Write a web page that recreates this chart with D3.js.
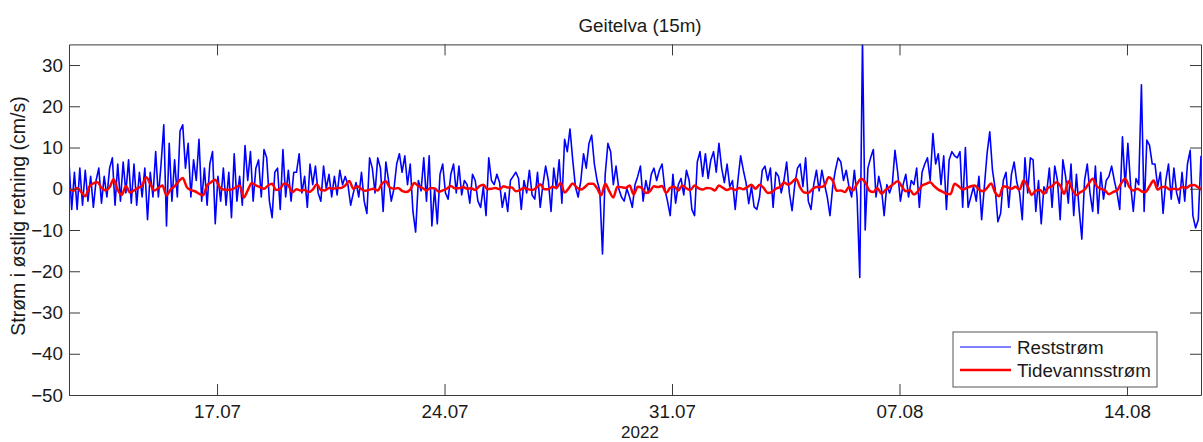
<!DOCTYPE html>
<html>
<head>
<meta charset="utf-8">
<script src="https://cdn.jsdelivr.net/npm/d3@7"></script>
<style>
  html, body { margin: 0; padding: 0; background: #fff; }
  svg { display: block; font-family: "Liberation Sans", Arial, Helvetica, sans-serif; }
</style>
</head>
<body>
<svg id="chart" width="1203" height="442"></svg>
<script>
// Geitelva 15 m: east-going current, residual and tidal parts (cm/s)
const title = "Geitelva (15m)";
const yLabel = "Strøm i østlig retning (cm/s)";
const yearLabel = "2022";
const seriesNames = ["Reststrøm", "Tidevannsstrøm"];
const yTicks = [-50, -40, -30, -20, -10, 0, 10, 20, 30];
const dateTicks = ["2022-07-17", "2022-07-24", "2022-07-31", "2022-08-07", "2022-08-14"];
const periodStart = "2022-07-12T10:40:00Z";
const periodEnd = "2022-08-16T06:40:00Z";

// Residual current, one reading every 2 hours from periodStart
const reststromStepHours = 2;
const reststrom = [
  6.5,-5,4,-5,5,-4,4.5,-3,3,-4.5,
  2,5,-3.5,3,-2,5,7.5,-4,6,-3,
  6.5,-1,7,-3.5,6,-4,4,-2,5,-7.5,
  4,-2,9,-2,6,15.5,-9,11,-3,7,
  -2,14,15.5,5,11,-2,7,2,12,-3,
  5,-4,6,9,-8.5,3,-3,5,-4,4,
  -7,8.5,-3,3,-4,10.5,2,9,-3,5,
  7,-2,9.5,7.5,-3,-7,4,5,-5,9.5,
  -2,4.5,-3,4,
  4,8.5,-1,3,-4.5,6,1,5.5,-1,-3,
  5.5,0,3.5,-2,3,-1.5,4.5,1,3,1,
  -4,-1,1.5,-2,4,-3,-6,7.5,5,-1,
  7.5,5,-5.5,6.5,2,-3,0,6,8.5,4,
  8,1,6,-5.5,-10.5,2,-0.5,7.5,-3,8,
  -9,0,-8.5,3.5,6,-1,-2.5,3.5,6,-1,
  5.5,-1.5,2,1,-3.5,3.5,2,-3,-4.5,0.5,
  -6.5,7.5,2,1,3.5,1.5,-4.5,-1,-5.5,2,
  3,4,2.5,
  -5,2,-1,4.5,-1.5,-2.5,4,-4.5,1,5.5,
  2,-5.5,5,0,7,-3.5,12,9,14.5,7,
  0.5,-2,2,8.5,5,11,13,6,2,-0.5,
  -15.8,3.5,11,9,1,5.5,0,-2,-3,0,
  -2,-4.5,1,3,5.5,-3,2,-1,3.5,5,
  2,4.5,6,0,-3,-6.5,3.5,-3.5,1,2.5,
  -1.5,4.5,2,-5,-6.5,6.5,9,3,8.5,2.5,
  7,9,4,11,5,1.5,6,0.5,2,-5,
  2,8,4.5,
  1.5,-3.6,0.5,-4.4,-5,-2,4.5,5.5,2,5,
  -4.5,4,3,-1,2,6.5,-1,-5.3,1,5,
  6,0.5,7.5,-3,-5,1,4.5,-0.5,4.5,1,
  -2,-6.5,0.5,4.5,7.5,6.5,2,4.5,0.5,-2,
  4.5,-2,-21.5,36,-10,5,7.5,9.5,-2,3,
  0,-6.5,1,-1,1,9.3,4,-3,1,3.5,
  -2,2,1,5,-4.5,4,6,7.5,2,13.4,
  6,8.5,1,8,-5,7,9,8,7.5,9,
  -4.5,10,-4.5,
  -2,0.5,-3,3,-7.5,0.5,8.5,13.8,4.5,0,
  -8,-6,2,4,-4.5,3.5,6.5,1.5,-1,-7.5,
  7.5,-1,7.5,7,-5.5,2,-8.5,0.5,-1,5,
  -4.5,5.5,2,-7.5,7,3,-3.5,6,-6.5,3.5,
  -5,-12.2,2,6,-1,-5.5,5.5,-6,4,-2.5,
  2,3,5.5,2,-1,-5,12.6,0.5,11,1,
  -5.5,2.5,1,25.2,-5.5,11.8,10.5,6,6,0.5,
  4,-6,2,6,-2.5,5,-1,-3.5,4,-3,
  6,9.3,-6.5,-9.5,-7.5,8
];

// Tidal current, one reading every 3 hours from periodStart
const tidevannStepHours = 3;
const tidevannsstrom = [
  0,-0.5,0.2,-0.8,-1.8,0.5,1.3,1.6,0.2,-0.4,
  0.4,2.3,-0.3,-1.5,0.7,-0.9,-0.4,0.2,0.8,2.8,
  1.2,-0.4,0.2,0.8,-1.6,-0.2,0.6,1.8,2.6,0.4,
  -0.3,-0.6,-1.2,-1.6,0.8,1.6,2.2,0.5,-0.2,-0.3,
  -0.2,0.3,0.8,-2.1,-0.4,1.4,0.8,0.4,0,0.8,
  1.2,-0.3,0.1,1.3,0.8,-0.8,
  -0.1,-0.4,-0.3,-0.8,-0.2,1.1,-0.3,-0.4,0.2,0,
  0.2,0.2,0.8,1.9,0,0.6,-0.1,-0.5,-0.2,0,
  -0.4,1.2,1.8,0.3,0,0.2,-0.5,-0.8,-0.2,1.4,
  0.6,0.2,-0.4,0.2,0.1,-0.7,-0.4,0,0.7,0.1,
  0.1,0.4,0,0.1,-0.3,0.6,1.0,-0.1,0,0.2,
  -0.1,0.6,0.3,0.3,-0.6,
  -0.3,0.2,-0.1,-0.3,0.2,1.1,-0.1,-0.1,0.5,0.2,
  1.4,-0.9,0.1,1.3,0.3,-0.2,0.4,1.2,1.2,0.1,
  -1.6,1.2,-0.6,-2.1,0.5,0.4,0.2,0.8,-1.4,0.5,
  0.2,-1.0,-0.6,0.6,0.4,0.7,-1.0,0.2,0.5,-0.4,
  0.8,0.1,-0.3,0.8,0.1,-0.2,0.2,0.1,-0.4,0.8,
  0.2,-0.3,0.1,-0.3,0.2,-0.1,
  0.4,1.0,0,1.0,0.2,-1.0,-0.8,0,0.4,1.5,
  1.0,1.6,2.4,0.3,-0.9,-1.0,-0.1,0.4,0.4,0.8,
  2.8,2.0,-0.5,-0.4,-0.8,0.4,-0.4,1.2,2.4,1.6,
  -0.4,-0.8,0.2,-1.2,-0.3,0.4,1.2,1.8,0.6,-0.6,
  -0.3,-1.4,-0.6,0.8,1.2,1.6,0.6,-0.2,-0.7,-1.2,
  -1.3,1.2,0.6,-0.2,0.2,
  0.6,0.8,-0.2,-0.6,0.2,1.3,-0.9,-1.8,0.6,0.4,
  0,0.5,-0.2,2,0.6,-1.5,-0.4,-0.3,-1.2,0.2,
  0.6,1.6,0.8,-1.2,1.8,-0.2,-1.5,-0.8,-0.2,1.2,
  2.4,0.6,0,-0.4,-1.3,-0.8,-0.4,1.3,2.4,0.5,
  -0.4,0,-0.6,-0.8,0.6,2,-0.2,0.4,0.4,-0.2,
  0,-0.2,0.4,0.2,0.8,0.9,0.3,-0.3
];

const seriesColors = ["#0000ff", "#ff0000"];

const svg = d3.select("#chart");
const plotLeft = 69, plotRight = 1201, plotTop = 44.4, plotBottom = 395;
const fontSize = 18.8;
const axisColor = "#3a3a3a";
const textColor = "#1a1a1a";

const t0 = new Date(periodStart).getTime();
const hour = 3600 * 1000;
const restData = reststrom.map((v, i) => ({ t: new Date(t0 + i * reststromStepHours * hour), v }));
const tideData = tidevannsstrom.map((v, i) => ({ t: new Date(t0 + i * tidevannStepHours * hour), v }));

const x = d3.scaleUtc().domain([new Date(periodStart), new Date(periodEnd)]).range([plotLeft, plotRight]);
const y = d3.scaleLinear().domain([-50, 35]).range([plotBottom, plotTop]);

svg.append("defs").append("clipPath").attr("id", "plotClip")
  .append("rect").attr("x", plotLeft).attr("y", plotTop)
  .attr("width", plotRight - plotLeft).attr("height", plotBottom - plotTop);

// series
const plot = svg.append("g").attr("clip-path", "url(#plotClip)");
const line = d3.line().x(d => x(d.t)).y(d => y(d.v));
plot.append("path").datum(restData)
  .attr("fill", "none").attr("stroke", seriesColors[0]).attr("stroke-width", 1.6)
  .attr("stroke-linejoin", "round").attr("d", line);
plot.append("path").datum(tideData)
  .attr("fill", "none").attr("stroke", seriesColors[1]).attr("stroke-width", 2.5)
  .attr("stroke-linejoin", "round")
  .attr("d", line.curve(d3.curveMonotoneX));

// axes with inward ticks on all four sides
const tickDates = dateTicks.map(s => new Date(s + "T00:00:00Z"));
const fmt = d3.utcFormat("%d.%m");
const tickLen = 11;

function styleAxis(g) {
  g.select(".domain").attr("stroke", axisColor).attr("stroke-width", 1);
  g.selectAll(".tick line").attr("stroke", axisColor).attr("stroke-width", 1);
  g.selectAll(".tick text").attr("fill", textColor).style("font-size", fontSize + "px")
    .style("font-family", "'Liberation Sans', Arial, Helvetica, sans-serif");
}

svg.append("g").attr("transform", `translate(0,${plotBottom})`)
  .call(d3.axisBottom(x).tickValues(tickDates).tickFormat(fmt)
    .tickSizeInner(-tickLen).tickSizeOuter(0).tickPadding(10))
  .call(styleAxis);
svg.append("g").attr("transform", `translate(0,${plotTop})`)
  .call(d3.axisTop(x).tickValues(tickDates).tickFormat("")
    .tickSizeInner(-tickLen).tickSizeOuter(0))
  .call(styleAxis);
svg.append("g").attr("transform", `translate(${plotLeft},0)`)
  .call(d3.axisLeft(y).tickValues(yTicks).tickFormat(d3.format("d"))
    .tickSizeInner(-tickLen).tickSizeOuter(0).tickPadding(6))
  .call(styleAxis);
svg.append("g").attr("transform", `translate(${plotRight},0)`)
  .call(d3.axisRight(y).tickValues(yTicks).tickFormat("")
    .tickSizeInner(-tickLen).tickSizeOuter(0))
  .call(styleAxis);

// title and axis labels
svg.append("text").attr("x", 640).attr("y", 32).attr("text-anchor", "middle")
  .attr("fill", textColor).style("font-size", fontSize + "px").text(title);
svg.append("text").attr("x", 640).attr("y", 438).attr("text-anchor", "middle")
  .attr("fill", textColor).style("font-size", "17px").text(yearLabel);
svg.append("text").attr("transform", "translate(25,216) rotate(-90)").attr("text-anchor", "middle")
  .attr("fill", textColor).style("font-size", "19.5px").text(yLabel);

// legend
const lg = svg.append("g").attr("transform", "translate(953,332)");
lg.append("rect").attr("x", 0).attr("y", 0).attr("width", 204).attr("height", 55)
  .attr("fill", "#fff").attr("stroke", "#555").attr("stroke-width", 1);
const rows = [{ name: seriesNames[0], color: seriesColors[0], w: 1.2, yy: 15 },
              { name: seriesNames[1], color: seriesColors[1], w: 2.5, yy: 38 }];
rows.forEach(r => {
  lg.append("line").attr("x1", 7).attr("x2", 58).attr("y1", r.yy).attr("y2", r.yy)
    .attr("stroke", r.color).attr("stroke-width", r.w);
  lg.append("text").attr("x", 64).attr("y", r.yy + 7).attr("fill", textColor)
    .style("font-size", fontSize + "px").text(r.name);
});
</script>
</body>
</html>
